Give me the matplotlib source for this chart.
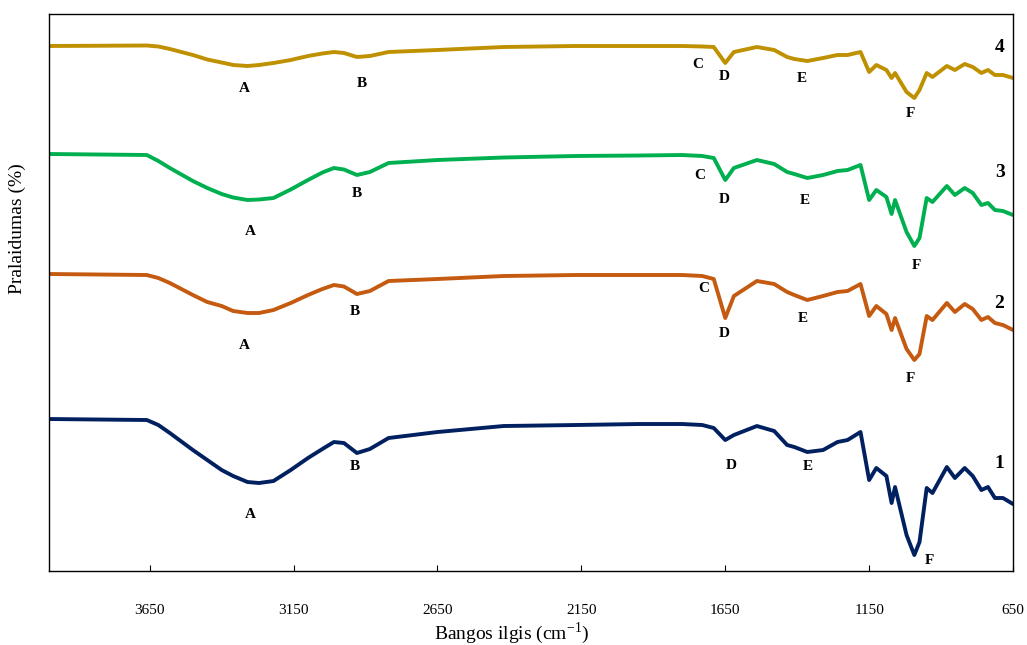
import matplotlib.pyplot as plt

plt.rcParams['font.family'] = ['Liberation Serif', 'DejaVu Serif']
plt.rcParams['mathtext.fontset'] = 'stix'

# bangos skaicius (cm-1), bendras visoms kreivems
wn = [4000, 3660, 3620, 3580, 3500, 3450, 3400, 3360, 3310, 3270, 3220, 3160, 3100,
      3050, 3010, 2975, 2930, 2885, 2820,
      2650, 2420, 2170, 1950, 1800, 1730, 1690, 1650, 1620, 1540, 1480, 1435, 1410,
      1365, 1310, 1260, 1225, 1180, 1150, 1125, 1090, 1072, 1060, 1020, 993, 975,
      950, 930, 880, 852, 818, 790, 760, 737, 713, 685, 650]

# pralaidumas (santykiniai vienetai, kreives pastumtos)
t1 = [30.4, 30.2, 29.2, 27.6, 24.2, 22.2, 20.2, 19.0, 17.8, 17.6, 18.0, 20.2, 22.6,
      24.4, 25.8, 25.6, 23.6, 24.4, 26.6,
      27.8, 29.0, 29.2, 29.4, 29.4, 29.2, 28.6, 26.2, 27.2, 29.0, 28.0, 25.2, 24.8,
      23.8, 24.2, 25.8, 26.2, 27.8, 18.2, 20.6, 19.0, 13.6, 16.8, 7.2, 3.2, 5.8,
      16.6, 15.6, 20.8, 18.6, 20.6, 19.0, 16.2, 16.8, 14.6, 14.6, 13.4]
t2 = [59.4, 59.2, 58.6, 57.6, 55.2, 53.8, 53.0, 52.0, 51.6, 51.6, 52.2, 53.6, 55.2,
      56.4, 57.2, 56.9, 55.4, 56.0, 58.0,
      58.4, 59.0, 59.2, 59.2, 59.2, 59.0, 58.4, 50.6, 55.0, 58.0, 57.4, 55.8, 55.2,
      54.2, 55.0, 55.8, 56.0, 57.4, 51.0, 53.0, 51.4, 48.2, 50.6, 44.4, 42.2, 43.4,
      51.0, 50.2, 53.6, 51.8, 53.4, 52.4, 50.2, 50.8, 49.6, 49.2, 48.2]
t3 = [83.4, 83.2, 82.0, 80.6, 78.0, 76.6, 75.4, 74.7, 74.2, 74.3, 74.6, 76.3, 78.2,
      79.7, 80.6, 80.3, 79.2, 79.8, 81.6,
      82.2, 82.7, 83.0, 83.1, 83.2, 83.0, 82.6, 78.2, 80.6, 82.2, 81.4, 79.8, 79.4,
      78.6, 79.2, 80.0, 80.2, 81.2, 74.2, 76.2, 74.8, 71.4, 74.2, 67.8, 65.0, 66.6,
      74.6, 73.8, 77.0, 75.2, 76.6, 75.6, 73.2, 73.6, 72.2, 72.0, 71.2]
t4 = [105.0, 105.1, 104.9, 104.4, 103.2, 102.3, 101.7, 101.2, 101.0, 101.2, 101.6, 102.2, 103.0,
      103.5, 103.8, 103.6, 102.8, 103.0, 103.8,
      104.2, 104.8, 105.0, 105.0, 105.0, 104.9, 104.8, 101.6, 103.8, 104.8, 104.2, 102.8, 102.4,
      102.0, 102.6, 103.2, 103.2, 103.8, 99.8, 101.2, 100.2, 98.6, 99.6, 95.8, 94.6, 96.2,
      99.6, 98.8, 101.0, 100.2, 101.4, 100.8, 99.6, 100.2, 99.2, 99.2, 98.6]

spalvos = ['#002060', '#C55A11', '#00B050', '#BF9000']

# juostu zymes: (tekstas, bangos skaicius, y)
zymes = [
    ('A', 3320, 96.4), ('B', 2913, 97.4), ('C', 1745, 101.2), ('D', 1655, 98.8),
    ('E', 1383, 98.4), ('F', 1008, 91.6),
    ('A', 3302, 68.0), ('B', 2930, 75.6), ('C', 1738, 79.2), ('D', 1655, 74.4),
    ('E', 1373, 74.2), ('F', 987, 61.2),
    ('A', 3320, 45.2), ('B', 2937, 52.0), ('C', 1724, 56.6), ('D', 1655, 47.6),
    ('E', 1380, 50.6), ('F', 1008, 38.6),
    ('A', 3302, 11.4), ('B', 2937, 21.0), ('D', 1630, 21.2), ('E', 1363, 21.0),
    ('F', 939, 2.2),
]
numeriai = [('4', 695, 104.6), ('3', 695, 79.8), ('2', 699, 53.6), ('1', 699, 21.6)]

fig = plt.figure(figsize=(10.27, 6.45), dpi=100)
ax = fig.add_axes([0.0477, 0.1147, 0.9387, 0.8636])

for t, c in zip([t1, t2, t3, t4], spalvos):
    ax.plot(wn, t, color=c, lw=2.8, solid_joinstyle='round')

for s, x, y in zymes:
    ax.text(x, y, s, fontsize=11, fontweight='bold', ha='center', va='center')
for s, x, y in numeriai:
    ax.text(x, y, s, fontsize=14, fontweight='bold', ha='center', va='center')

ax.set_xlim(4000, 650)
ax.set_ylim(0, 111.4)
ax.set_xticks([3650, 3150, 2650, 2150, 1650, 1150, 650])
ax.set_yticks([])
ax.tick_params(axis='x', direction='in', length=4, pad=24, labelsize=11)
for sp in ax.spines.values():
    sp.set_linewidth(1.0)

ax.set_xlabel('Bangos ilgis (cm$^{\\mathregular{-1}}$)', fontsize=14)
ax.xaxis.set_label_coords(0.48, -0.09)
ax.set_ylabel('Pralaidumas (%)', fontsize=14)
ax.yaxis.set_label_coords(-0.024, 0.614)

plt.savefig('out.png', dpi=100)
